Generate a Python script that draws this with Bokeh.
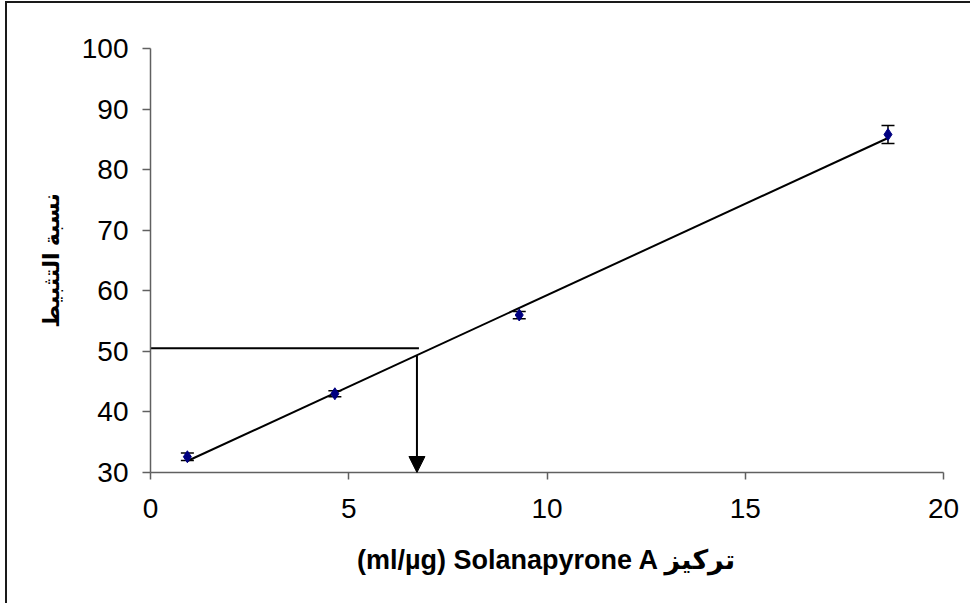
import numpy as np
from bokeh.plotting import figure
from bokeh.models import (ColumnDataSource, Whisker, TeeHead, Arrow, NormalHead,
                          FixedTicker, Range1d)
from bokeh.embed import file_html
from bokeh.resources import INLINE

# Solanapyrone A concentration (µg/ml) and inhibition percentage with error
conc = [0.93, 4.65, 9.3, 18.6]
inhibition = [32.6, 43.0, 56.0, 85.8]
error = [0.6, 0.5, 0.6, 1.5]

x_ticks = [0, 5, 10, 15, 20]
y_ticks = [30, 40, 50, 60, 70, 80, 90, 100]

# 50 % reference level and the concentration
ref_level = 50.5
ref_conc = 6.72

x_title = "(ml/µg) Solanapyrone A تركيز"
y_title = "نسبة التثبيط"

FONT = "Liberation Sans, DejaVu Sans"

src = ColumnDataSource(dict(
    x=conc, y=inhibition,
    lo=[v - e for v, e in zip(inhibition, error)],
    hi=[v + e for v, e in zip(inhibition, error)],
))

p = figure(width=965, height=602, x_range=Range1d(0, 20), y_range=Range1d(30, 100),
           output_backend="svg", toolbar_location=None,
           min_border_left=143, min_border_right=29,
           min_border_top=45, min_border_bottom=133)
p.margin = (1, 0, 0, 5)
p.styles = {"border-left": "2px solid #1a1a1a", "border-top": "2px solid #1a1a1a"}
p.grid.visible = False
p.outline_line_color = None
p.background_fill_color = "white"
p.border_fill_color = "white"

for ax, ticks in ((p.xaxis[0], x_ticks), (p.yaxis[0], y_ticks)):
    ax.ticker = FixedTicker(ticks=ticks)
    ax.axis_line_color = "#606060"
    ax.axis_line_width = 1.5
    ax.major_tick_line_color = "#606060"
    ax.major_tick_line_width = 1.5
    ax.major_tick_in = 0
    ax.minor_tick_line_color = None
    ax.major_label_text_font = FONT
    ax.major_label_text_font_size = "28px"
    ax.major_label_text_color = "black"
    ax.axis_label_text_font = FONT
    ax.axis_label_text_font_style = "bold"
    ax.axis_label_text_color = "black"

p.xaxis.major_tick_out = 7
p.xaxis.major_label_standoff = 19
p.xaxis.axis_label = x_title
p.xaxis.axis_label_text_font_size = "27px"
p.xaxis.axis_label_standoff = 24

p.yaxis.major_tick_out = 8
p.yaxis.major_label_standoff = 14
p.yaxis.axis_label = y_title
p.yaxis.axis_label_text_font_size = "22px"
p.yaxis.axis_label_standoff = 15

# linear trend line through the measurements
slope, intercept = np.polyfit(conc, inhibition, 1)
tx = [conc[0], conc[-1]]
p.line(tx, [slope * v + intercept for v in tx], line_color="black", line_width=2)

# reference level and arrow down to the concentration axis
p.line([0, ref_conc + 0.05], [ref_level, ref_level], line_color="black", line_width=2)
p.add_layout(Arrow(end=NormalHead(size=16, fill_color="black", line_color="black"),
                   x_start=ref_conc, y_start=slope * ref_conc + intercept,
                   x_end=ref_conc, y_end=30, line_color="black", line_width=2))

# error bars and markers
p.add_layout(Whisker(source=src, base="x", lower="lo", upper="hi",
                     line_color="black", line_width=1.5,
                     upper_head=TeeHead(size=13, line_color="black", line_width=1.5),
                     lower_head=TeeHead(size=13, line_color="black", line_width=1.5)))
p.scatter("x", "y", source=src, marker="diamond", size=12,
          fill_color="#000080", line_color="#000080")

open("out.html", "w").write(file_html(p, INLINE))
